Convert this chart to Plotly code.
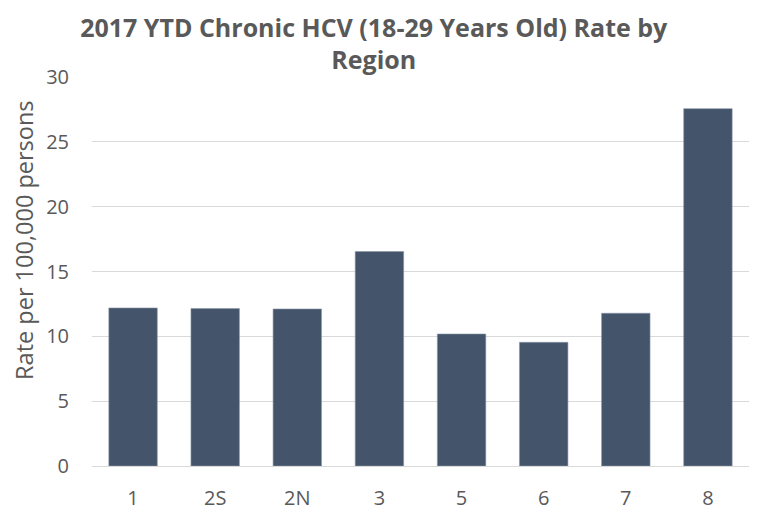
import plotly.graph_objects as go

regions = ["1", "2S", "2N", "3", "5", "6", "7", "8"]
rates = [12.19, 12.14, 12.11, 16.54, 10.18, 9.54, 11.78, 27.56]
y_ticks = [0, 5, 10, 15, 20, 25, 30]

fig = go.Figure()
fig.add_trace(go.Bar(
    x=regions, y=rates,
    marker=dict(color="#44546A", line=dict(color="#8a97a8", width=0.6)),
    hoverinfo="x+y",
))

fig.update_layout(
    width=762, height=515,
    paper_bgcolor="white", plot_bgcolor="white",
    margin=dict(l=84, r=21, t=69, b=53),
    bargap=0.41,
    showlegend=False,
    font=dict(family="Open Sans", color="#595959"),
    title=dict(
        text="<b>2017 YTD Chronic HCV (18-29 Years Old) Rate by<br>Region</b>",
        font=dict(size=25, color="#595959", family="Open Sans"),
        x=0.48, xanchor="center", y=0.944, yanchor="middle",
    ),
    xaxis=dict(
        type="category",
        tickfont=dict(size=20, color="#595959"),
        showgrid=False, showline=False, ticks="",
        ticklabelstandoff=18,
    ),
    yaxis=dict(
        range=[0, 30], tickvals=y_ticks,
        tickfont=dict(size=20, color="#595959"),
        showgrid=True, gridcolor="#d9d9d9", gridwidth=1,
        zeroline=True, zerolinecolor="#d9d9d9", zerolinewidth=1,
        showline=False, ticks="",
        ticklabelstandoff=22,
    ),
    annotations=[dict(
        text="Rate per 100,000 persons",
        textangle=-90, xref="paper", yref="paper",
        x=-0.1027, y=0.58, xanchor="center", yanchor="middle",
        showarrow=False, font=dict(size=23.5, color="#595959", family="Open Sans"),
    )],
)

fig.write_html("out.html")
